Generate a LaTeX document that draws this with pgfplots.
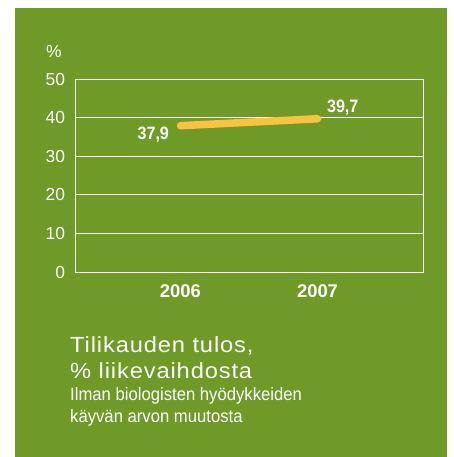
\documentclass[border=0pt]{standalone}
\usepackage{pgfplots}
\pgfplotsset{compat=1.18}
\usepackage{fontspec}
\setmainfont{Liberation Sans}
\newfontfamily\condfont[FakeStretch=0.9]{Liberation Sans}
\newfontfamily\subfont[FakeStretch=0.93]{Liberation Sans}
\newfontfamily\titlefont[FakeStretch=1.08, LetterSpace=4]{Liberation Sans}
\definecolor{bggreen}{HTML}{6F9A28}
\definecolor{lineyellow}{HTML}{F9C342}
\begin{document}
\begin{tikzpicture}
\path[use as bounding box, fill=white] (0bp,0bp) rectangle (454bp,457bp);
\fill[bggreen] (15bp,0bp) rectangle (447bp,449bp);
\begin{axis}[
  at={(75bp,185bp)}, anchor=south west,
  scale only axis, width=348bp, height=193bp,
  xmin=-0.77, xmax=1.77, ymin=0, ymax=50,
  xtick={0,1}, xticklabels={2006,2007},
  ytick={0,10,20,30,40,50},
  major tick length=0pt,
  axis line style={white, line width=0.9pt},
  ymajorgrids, grid style={white, line width=0.9pt},
  /pgf/number format/assume math mode=true,
  yticklabel style={font=\fontsize{17.5}{20}\selectfont, text=white, xshift=-6.5bp},
  xticklabel style={font=\fontsize{18.5}{21}\selectfont\bfseries, text=white, yshift=-9bp},
  clip=false,
]
\addplot[lineyellow, line width=7.5bp, line cap=round] coordinates {(0,37.9) (1,39.7)};
\node[anchor=east, text=white, font=\condfont\fontsize{18}{20}\selectfont\bfseries] at (axis cs:0,37.9) [xshift=-8bp, yshift=-9bp] {37,9};
\node[anchor=south west, text=white, font=\condfont\fontsize{18}{20}\selectfont\bfseries] at (axis cs:1,39.7) [xshift=6bp, yshift=0bp] {39,7};
\end{axis}
\node[text=white, font=\fontsize{17.5}{20}\selectfont] at (54bp,405bp) {\%};
\node[anchor=north west, text=white, align=left, inner sep=0pt, font=\titlefont\fontsize{22}{27}\selectfont] at (70bp,121bp) {Tilikauden tulos,\\\% liikevaihdosta};
\node[anchor=north west, text=white, align=left, inner sep=0pt, font=\subfont\fontsize{18}{22}\selectfont] at (70bp,70bp) {Ilman biologisten hyödykkeiden\\käyvän arvon muutosta};
\end{tikzpicture}
\end{document}
